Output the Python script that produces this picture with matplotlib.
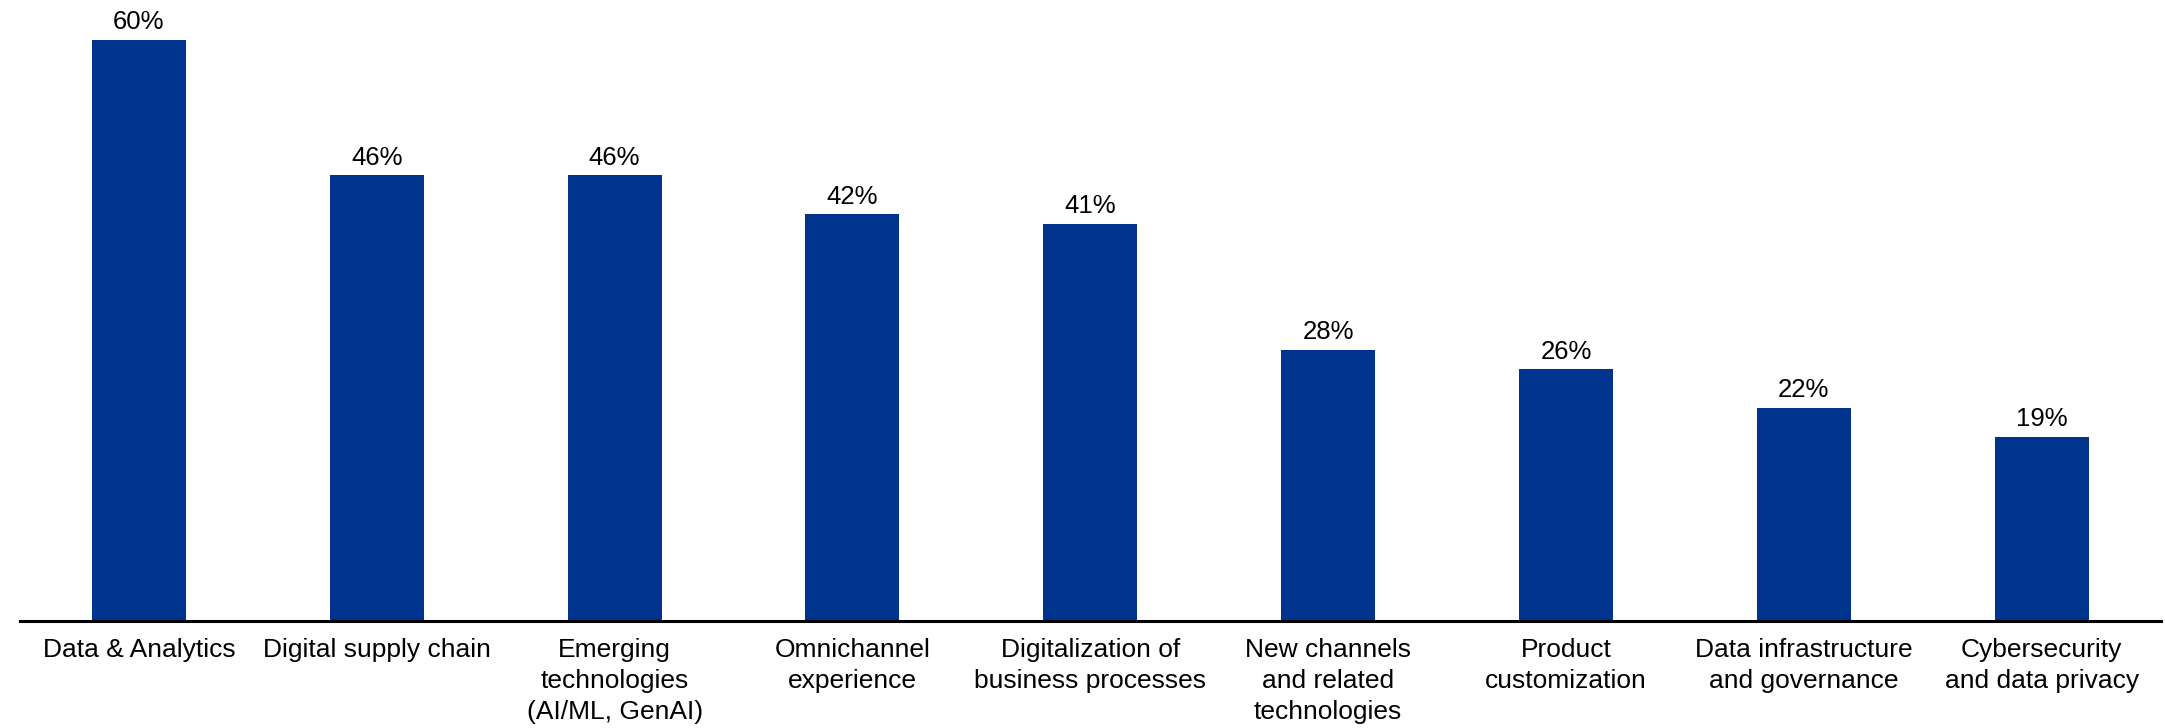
import matplotlib
matplotlib.use("Agg")
import matplotlib.pyplot as plt

categories = [
    "Data & Analytics",
    "Digital supply chain",
    "Emerging\ntechnologies\n(AI/ML, GenAI)",
    "Omnichannel\nexperience",
    "Digitalization of\nbusiness processes",
    "New channels\nand related\ntechnologies",
    "Product\ncustomization",
    "Data infrastructure\nand governance",
    "Cybersecurity\nand data privacy",
]
values = [60, 46, 46, 42, 41, 28, 26, 22, 19]

plt.rcParams["font.family"] = ["Liberation Sans", "DejaVu Sans"]

fig = plt.figure(figsize=(21.65, 7.28), dpi=100)
ax = fig.add_axes([0.0092, 0.147, 0.9888, 0.853])

x = range(len(values))
bars = ax.bar(x, values, width=0.395, color="#00338D")

for b, v in zip(bars, values):
    ax.annotate(f"{v}%", (b.get_x() + b.get_width() / 2, v),
                xytext=(0, 4), textcoords="offset points",
                ha="center", va="bottom", fontsize=18.5)

ax.set_xlim(-0.5, len(values) - 0.5)
ax.set_ylim(0, 64.1)
ax.set_xticks(list(x))
ax.set_xticklabels(categories, fontsize=19, linespacing=1.36)
ax.tick_params(axis="x", length=0, pad=12.5)
ax.set_yticks([])
for s in ("top", "right", "left"):
    ax.spines[s].set_visible(False)
ax.spines["bottom"].set_linewidth(2.2)
ax.spines["bottom"].set_color("black")

fig.savefig("out.png", dpi=100)
